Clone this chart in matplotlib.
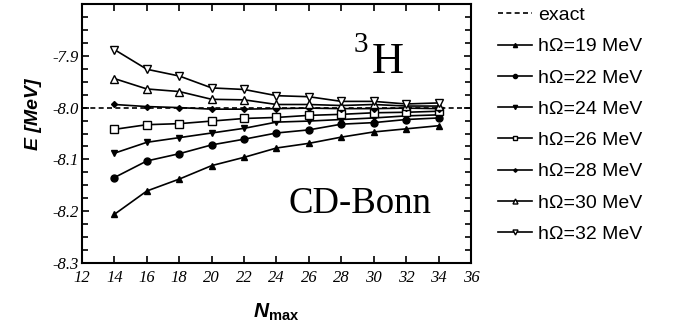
import matplotlib
matplotlib.use("Agg")
import matplotlib.pyplot as plt
from matplotlib.ticker import MultipleLocator, FixedLocator

plt.rcParams.update({
    "font.family": "Liberation Sans",
    "axes.unicode_minus": False,
    "mathtext.fontset": "custom",
    "mathtext.rm": "Liberation Sans",
    "mathtext.bf": "Liberation Sans:bold",
    "mathtext.bfit": "Liberation Sans:italic:bold",
    "mathtext.it": "Liberation Sans:italic",
})

nmax = [14, 16, 18, 20, 22, 24, 26, 28, 30, 32, 34]
e_exact = -8.0

hw_labels = ["hΩ=19 MeV", "hΩ=22 MeV", "hΩ=24 MeV", "hΩ=26 MeV",
             "hΩ=28 MeV", "hΩ=30 MeV", "hΩ=32 MeV"]
e_19 = [-8.206, -8.161, -8.138, -8.112, -8.096, -8.078, -8.069, -8.057, -8.047, -8.041, -8.035]
e_22 = [-8.135, -8.103, -8.089, -8.072, -8.061, -8.049, -8.043, -8.032, -8.029, -8.023, -8.020]
e_24 = [-8.088, -8.067, -8.058, -8.049, -8.040, -8.028, -8.026, -8.023, -8.020, -8.016, -8.014]
e_26 = [-8.042, -8.033, -8.031, -8.026, -8.021, -8.019, -8.015, -8.013, -8.010, -8.009, -8.007]
e_28 = [-7.994, -7.998, -8.000, -8.003, -8.003, -8.002, -8.001, -8.002, -8.002, -8.001, -8.002]
e_30 = [-7.944, -7.964, -7.969, -7.984, -7.985, -7.994, -7.994, -7.996, -7.994, -7.997, -7.997]
e_32 = [-7.888, -7.926, -7.939, -7.962, -7.965, -7.977, -7.979, -7.988, -7.988, -7.993, -7.991]

series = [e_19, e_22, e_24, e_26, e_28, e_30, e_32]
markers = ["^", "o", "v", "s", "D", "^", "v"]
filled = [True, True, True, False, True, False, False]
msizes = [5, 5, 5, 6, 3, 6, 6]

fig = plt.figure(figsize=(6.84, 3.33), dpi=100)
ax = fig.add_axes([82 / 684, 1 - 263 / 333, 389 / 684, 259 / 333])

ax.plot([12, 36], [e_exact, e_exact], color="black", lw=1.2,
        ls=(0, (3, 2)), label="exact")
for vals, lab, mk, fl, ms in zip(series, hw_labels, markers, filled, msizes):
    ax.plot(nmax, vals, color="black", lw=1.2, marker=mk, ms=ms,
            mfc="black" if fl else "white", mec="black", mew=1.0, label=lab)

ax.set_xlim(12, 36)
ax.set_ylim(-8.3, -7.8)
ax.xaxis.set_major_locator(MultipleLocator(2))
ax.yaxis.set_major_locator(FixedLocator([-8.3, -8.2, -8.1, -8.0, -7.9]))
ax.yaxis.set_minor_locator(MultipleLocator(0.025))
ax.yaxis.set_major_formatter(plt.FuncFormatter(lambda v, p: f"{v:.1f}"))
ax.tick_params(which="both", direction="in", top=True, right=True, width=1.2)
ax.tick_params(which="major", length=5)
ax.tick_params(which="minor", length=4)
ax.tick_params(axis="x", pad=5)
ax.tick_params(axis="y", pad=2)
for lbl in ax.get_xticklabels() + ax.get_yticklabels():
    lbl.set_fontfamily("Liberation Serif")
    lbl.set_fontstyle("italic")
    lbl.set_fontsize(12)
for sp in ax.spines.values():
    sp.set_linewidth(1.5)

ax.set_ylabel("E [MeV]", fontsize=14, fontweight="bold", fontstyle="italic")
ax.yaxis.set_label_coords(-0.103, 0.575)
ax.set_xlabel(r"$\mathbfit{N}_{\mathbf{max}}$", fontsize=15)
ax.xaxis.set_label_coords(0.5, -0.15)

# nucleus label and potential name
ax.text(0.745, 0.734, "H", transform=ax.transAxes, fontsize=32,
        family="Liberation Serif", ha="left", va="baseline")
ax.text(0.697, 0.815, "3", transform=ax.transAxes, fontsize=21,
        family="Liberation Serif", ha="left", va="baseline")
ax.text(0.53, 0.193, "CD-Bonn", transform=ax.transAxes, fontsize=26.5,
        family="Liberation Serif", ha="left", va="baseline")

leg = ax.legend(loc="upper left", bbox_to_anchor=(498 / 684, 0.98),
                bbox_transform=fig.transFigure, frameon=False, fontsize=14,
                handlelength=1.75, handletextpad=0.3, labelspacing=0.7,
                markerscale=0.6, borderaxespad=0, borderpad=0)

fig.savefig("out.png", dpi=100)
